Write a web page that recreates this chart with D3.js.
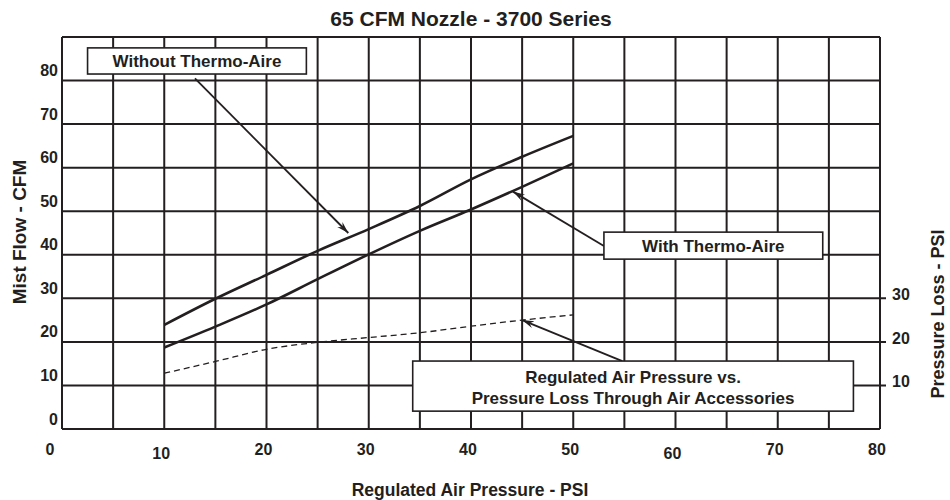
<!DOCTYPE html>
<html>
<head>
    <meta charset="utf-8" />
    <title>65 CFM Nozzle - 3700 Series</title>
    <script src="https://cdn.jsdelivr.net/npm/d3@7"></script>
    <style>
        body { margin: 0; background: #fff; }
        text { font-family: "Liberation Sans", Arial, sans-serif; font-weight: bold; fill: #231f20; }
    </style>
</head>
<body>
    <div id="chart"></div>
    <script>
        // regulated air pressure (PSI) where the curves were read
        var pressure = [10, 15, 20, 25, 30, 35, 40, 45, 50];
        // mist flow (CFM)
        var withoutThermo = [23.9, 29.9, 35.4, 40.9, 45.9, 51.2, 57.3, 62.5, 67.3];
        var withThermo = [18.7, 23.5, 28.6, 34.4, 40.1, 45.5, 50.4, 55.6, 61.0];
        // pressure loss through air accessories (PSI)
        var pressureLoss = [12.8, 15.5, 18.3, 19.9, 21.0, 22.1, 23.6, 25.0, 26.2];

        var xTicks = [0, 10, 20, 30, 40, 50, 60, 70, 80];
        var yTicks = [0, 10, 20, 30, 40, 50, 60, 70, 80];
        var rightTicks = [10, 20, 30];

        var width = 950, height = 500;
        var margin = { top: 37, right: 70, bottom: 71, left: 62 };
        var w = width - margin.left - margin.right;
        var h = height - margin.top - margin.bottom;
        var ink = "#231f20";

        var x = d3.scaleLinear().domain([0, 80]).range([0, w]);
        var y = d3.scaleLinear().domain([0, 90]).range([h, 0]);

        var svg = d3.select("#chart")
            .append("svg")
            .attr("width", width)
            .attr("height", height);

        svg.append("defs").append("marker")
            .attr("id", "arrow")
            .attr("viewBox", "-12 -5 14 10")
            .attr("markerWidth", 14)
            .attr("markerHeight", 10)
            .attr("markerUnits", "userSpaceOnUse")
            .attr("refX", 0)
            .attr("refY", 0)
            .attr("orient", "auto")
            .append("path")
            .attr("d", "M0,0 L-12,-3.6 L-8,0 L-12,3.6 Z")
            .attr("fill", ink);

        svg.append("text")
            .attr("x", 471)
            .attr("y", 26)
            .attr("text-anchor", "middle")
            .style("font-size", "21px")
            .text("65 CFM Nozzle - 3700 Series");

        var g = svg.append("g")
            .attr("transform", "translate(" + margin.left + "," + margin.top + ")");

        // grid, one line every 5 PSI and every 10 CFM
        g.selectAll(".vgrid")
            .data(d3.range(0, 81, 5))
            .enter()
            .append("line")
            .attr("x1", function (d) { return x(d); })
            .attr("x2", function (d) { return x(d); })
            .attr("y1", 0)
            .attr("y2", h)
            .attr("stroke", ink)
            .attr("stroke-width", 2);

        g.selectAll(".hgrid")
            .data(d3.range(0, 91, 10))
            .enter()
            .append("line")
            .attr("x1", 0)
            .attr("x2", function (d) { return rightTicks.indexOf(d) >= 0 ? w + 6 : w; })
            .attr("y1", function (d) { return y(d); })
            .attr("y2", function (d) { return y(d); })
            .attr("stroke", ink)
            .attr("stroke-width", 2);

        // tick labels
        g.selectAll(".ylab")
            .data(yTicks)
            .enter()
            .append("text")
            .attr("x", -4)
            .attr("y", function (d) { return y(d) - 4.5; })
            .attr("text-anchor", "end")
            .style("font-size", "16px")
            .text(function (d) { return d; });

        g.selectAll(".xlab")
            .data(xTicks)
            .enter()
            .append("text")
            .attr("x", function (d) { return d === 0 ? x(d) - 12 : x(d) - 3; })
            .attr("y", function (d) { return h + ((d === 10 || d === 60) ? 30 : 26); })
            .attr("text-anchor", "middle")
            .style("font-size", "16px")
            .text(function (d) { return d; });

        g.selectAll(".rlab")
            .data(rightTicks)
            .enter()
            .append("text")
            .attr("x", w + 12)
            .attr("y", function (d) { return y(d) + 2; })
            .style("font-size", "16px")
            .text(function (d) { return d; });

        // axis titles
        svg.append("text")
            .attr("transform", "translate(26,232) rotate(-90)")
            .attr("text-anchor", "middle")
            .style("font-size", "19px")
            .text("Mist Flow - CFM");

        svg.append("text")
            .attr("transform", "translate(944,314) rotate(-90)")
            .attr("text-anchor", "middle")
            .style("font-size", "18px")
            .text("Pressure Loss - PSI");

        svg.append("text")
            .attr("x", 470)
            .attr("y", 496)
            .attr("text-anchor", "middle")
            .style("font-size", "17.5px")
            .text("Regulated Air Pressure - PSI");

        // curves
        function series(values) {
            return pressure.map(function (p, i) { return [p, values[i]]; });
        }
        var line = d3.line()
            .x(function (d) { return x(d[0]); })
            .y(function (d) { return y(d[1]); })
            .curve(d3.curveMonotoneX);

        g.append("path")
            .datum(series(withoutThermo))
            .attr("d", line)
            .attr("fill", "none")
            .attr("stroke", ink)
            .attr("stroke-width", 2.6);

        g.append("path")
            .datum(series(withThermo))
            .attr("d", line)
            .attr("fill", "none")
            .attr("stroke", ink)
            .attr("stroke-width", 2.6);

        g.append("path")
            .datum(series(pressureLoss))
            .attr("d", line)
            .attr("fill", "none")
            .attr("stroke", ink)
            .attr("stroke-width", 1.3)
            .attr("stroke-dasharray", "6,4");

        // callouts: box corners, arrow tail and tip in data units
        var notes = [
            { lines: ["Without Thermo-Aire"], box: [2.5, 87.5, 23.9, 81.5], from: [13, 80.5], to: [28, 45] },
            { lines: ["With Thermo-Aire"], box: [53.0, 45.2, 74.4, 39.0], from: [53.0, 42.0], to: [44.1, 54.5] },
            { lines: ["Regulated Air Pressure vs.", "Pressure Loss Through Air Accessories"],
              box: [34.3, 15.6, 77.4, 4.1], from: [54.8, 15.6], to: [45.0, 25.0] }
        ];

        notes.forEach(function (n) {
            g.append("line")
                .attr("x1", x(n.from[0]))
                .attr("y1", y(n.from[1]))
                .attr("x2", x(n.to[0]))
                .attr("y2", y(n.to[1]))
                .attr("stroke", ink)
                .attr("stroke-width", 1.8)
                .attr("marker-end", "url(#arrow)");

            var bx = x(n.box[0]), by = y(n.box[1]);
            var bw = x(n.box[2]) - bx, bh = y(n.box[3]) - by;
            g.append("rect")
                .attr("x", bx)
                .attr("y", by)
                .attr("width", bw)
                .attr("height", bh)
                .attr("fill", "#fff")
                .attr("stroke", ink)
                .attr("stroke-width", 1.6);

            var first = n.lines.length === 1 ? bh / 2 + 6 : bh / 2 - 3;
            n.lines.forEach(function (t, i) {
                g.append("text")
                    .attr("x", bx + bw / 2)
                    .attr("y", by + first + i * 21)
                    .attr("text-anchor", "middle")
                    .style("font-size", "17px")
                    .text(t);
            });
        });
    </script>
</body>
</html>
